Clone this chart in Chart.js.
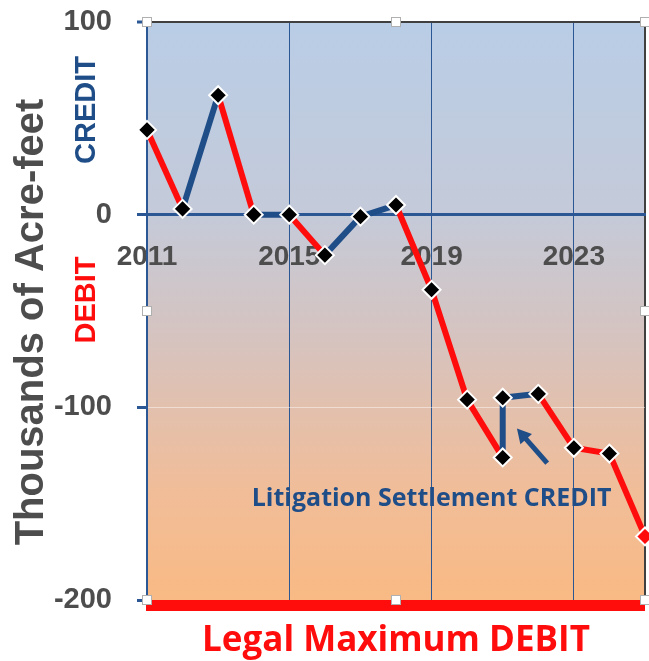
<!DOCTYPE html>
<html>
<head>
<meta charset="utf-8">
<script src="https://cdn.jsdelivr.net/npm/chart.js@4"></script>
<style>
  body { margin: 0; background: #fff; }
  #box { width: 649px; height: 661px; }
</style>
</head>
<body>
<div id="box"><canvas id="chart"></canvas></div>
<script>
// water balance, thousands of acre-feet (2021 appears twice: before/after the settlement credit)
const years = [2011, 2012, 2013, 2014, 2015, 2016, 2017, 2018, 2019, 2020, 2021, 2021, 2022, 2023, 2024, 2025];
const balance = [44, 3, 62, 0, 0, -21, -1, 5, -39, -96, -126, -95, -93, -121, -124, -167];
const xTicks = [2011, 2015, 2019, 2023, 2025];
const xTickLabels = ['2011', '2015', '2019', '2023', ''];
const yTicks = [100, 0, -100, -200];

const RED = '#ff0d0d';
const BLUE = '#1f4d88';
const GRID_BLUE = '#2b5795';
const GRAY = '#4d4d4d';

// background, borders, side texts, annotation
const decor = {
    id: 'decor',
    beforeDraw(chart) {
        const { ctx, chartArea: a } = chart;
        const g = ctx.createLinearGradient(0, a.top, 0, a.bottom);
        g.addColorStop(0, '#b9cde6');
        g.addColorStop(0.33, '#c4cad9');
        g.addColorStop(0.55, '#d6c3bf');
        g.addColorStop(0.8, '#f0bd9a');
        g.addColorStop(1, '#f9ba84');
        ctx.save();
        ctx.fillStyle = g;
        ctx.fillRect(a.left, a.top, a.right - a.left, a.bottom - a.top);
        ctx.restore();
    },
    afterDraw(chart) {
        const { ctx, chartArea: a, scales } = chart;
        const x = scales.x, y = scales.y;
        ctx.save();

        // legal maximum line
        ctx.fillStyle = RED;
        ctx.fillRect(a.left - 1, a.bottom, a.right - a.left + 1, 11);

        // selection handles
        const mx = (a.left + a.right) / 2, my = (a.top + a.bottom) / 2;
        [[a.left, a.top], [mx, a.top], [a.right, a.top], [a.left, my], [a.right, my],
         [a.left, a.bottom], [mx, a.bottom], [a.right, a.bottom]].forEach(p => {
            ctx.fillStyle = '#fff';
            ctx.strokeStyle = '#b0b0b0';
            ctx.lineWidth = 1;
            ctx.fillRect(p[0] - 4, p[1] - 4, 8, 8);
            ctx.strokeRect(p[0] - 4.5, p[1] - 4.5, 9, 9);
        });

        // side texts
        ctx.textAlign = 'center';
        ctx.textBaseline = 'middle';
        ctx.save();
        ctx.translate(32, 322);
        ctx.rotate(-Math.PI / 2);
        ctx.fillStyle = GRAY;
        ctx.font = 'bold 40px "Liberation Sans", Arial, sans-serif';
        ctx.fillText('Thousands of Acre-feet', 0, 0);
        ctx.restore();

        ctx.save();
        ctx.translate(87, 110);
        ctx.rotate(-Math.PI / 2);
        ctx.fillStyle = BLUE;
        ctx.font = 'bold 29px "Liberation Sans", Arial, sans-serif';
        ctx.fillText('CREDIT', 0, 0);
        ctx.restore();

        ctx.save();
        ctx.translate(87, 300);
        ctx.rotate(-Math.PI / 2);
        ctx.fillStyle = RED;
        ctx.font = 'bold 29px "Liberation Sans", Arial, sans-serif';
        ctx.fillText('DEBIT', 0, 0);
        ctx.restore();

        ctx.fillStyle = RED;
        ctx.font = 'bold 35px "Open Sans", "Liberation Sans", sans-serif';
        ctx.fillText('Legal Maximum DEBIT', mx, 641);

        // settlement annotation
        ctx.fillStyle = BLUE;
        ctx.font = 'bold 25px "Open Sans", "Liberation Sans", sans-serif';
        ctx.textBaseline = 'alphabetic';
        ctx.fillText('Litigation Settlement CREDIT', x.getPixelForValue(2019), y.getPixelForValue(-151));

        const x0 = x.getPixelForValue(2022.25), y0 = y.getPixelForValue(-129);
        const x1 = x.getPixelForValue(2021.4), y1 = y.getPixelForValue(-111);
        const ang = Math.atan2(y1 - y0, x1 - x0);
        ctx.strokeStyle = BLUE;
        ctx.lineWidth = 5;
        ctx.beginPath();
        ctx.moveTo(x0, y0);
        ctx.lineTo(x1 - 8 * Math.cos(ang), y1 - 8 * Math.sin(ang));
        ctx.stroke();
        ctx.beginPath();
        ctx.moveTo(x1, y1);
        ctx.lineTo(x1 - 16 * Math.cos(ang - 0.5), y1 - 16 * Math.sin(ang - 0.5));
        ctx.lineTo(x1 - 16 * Math.cos(ang + 0.5), y1 - 16 * Math.sin(ang + 0.5));
        ctx.closePath();
        ctx.fill();

        ctx.restore();
    }
};

const points = years.map((yr, i) => ({ x: yr, y: balance[i] }));

new Chart(document.getElementById('chart'), {
    type: 'line',
    data: {
        datasets: [{
            data: points,
            borderWidth: 6,
            tension: 0,
            clip: false,
            segment: {
                borderColor: ctx => ctx.p1.parsed.y >= ctx.p0.parsed.y ? BLUE : RED
            },
            pointStyle: 'rectRot',
            pointRadius: 9,
            pointHoverRadius: 9,
            pointBorderWidth: 2,
            pointBorderColor: '#ffffff',
            pointBackgroundColor: balance.map((v, i) => i === balance.length - 1 ? RED : '#000000')
        }]
    },
    options: {
        responsive: true,
        maintainAspectRatio: false,
        animation: false,
        layout: { autoPadding: false, padding: { left: 0, right: 4, top: 22, bottom: 61 } },
        plugins: { legend: { display: false }, tooltip: { enabled: false } },
        scales: {
            x: {
                type: 'linear',
                position: { y: 0 },
                min: 2011,
                max: 2025,
                afterBuildTicks: scale => { scale.ticks = xTicks.map(v => ({ value: v })); },
                afterFit: scale => { scale.paddingLeft = 0; scale.paddingRight = 0; },
                ticks: {
                    callback: (v, i) => xTickLabels[i],
                    font: { family: '"Liberation Sans", Arial, sans-serif', size: 28, weight: 'bold' },
                    color: GRAY,
                    padding: 26,
                    maxRotation: 0,
                    autoSkip: false
                },
                grid: {
                    drawTicks: false,
                    color: c => c.tick && c.tick.value === 2025 ? '#404040' : (c.tick && c.tick.value === 2011 ? 'rgba(0,0,0,0)' : GRID_BLUE),
                    lineWidth: c => c.tick && c.tick.value === 2025 ? 2 : 1
                },
                border: { color: GRID_BLUE, width: 3 }
            },
            y: {
                min: -200,
                max: 100,
                afterFit: scale => { scale.width = 147; scale.paddingTop = 0; scale.paddingBottom = 0; },
                afterBuildTicks: scale => { scale.ticks = yTicks.map(v => ({ value: v })); },
                ticks: {
                    font: { family: '"Liberation Sans", Arial, sans-serif', size: 29, weight: 'bold' },
                    color: GRAY,
                    padding: 25
                },
                grid: {
                    tickLength: 10,
                    tickColor: GRID_BLUE,
                    tickWidth: 3,
                    color: c => {
                        const v = c.tick && c.tick.value;
                        if (v === 100) return '#404040';
                        if (v === 0) return GRID_BLUE;
                        if (v === -100) return 'rgba(255,255,255,0.45)';
                        return 'rgba(0,0,0,0)';
                    },
                    lineWidth: c => (c.tick && c.tick.value === 100) ? 2 : 1
                },
                border: { color: GRID_BLUE, width: 2 }
            }
        }
    },
    plugins: [decor]
});
</script>
</body>
</html>
